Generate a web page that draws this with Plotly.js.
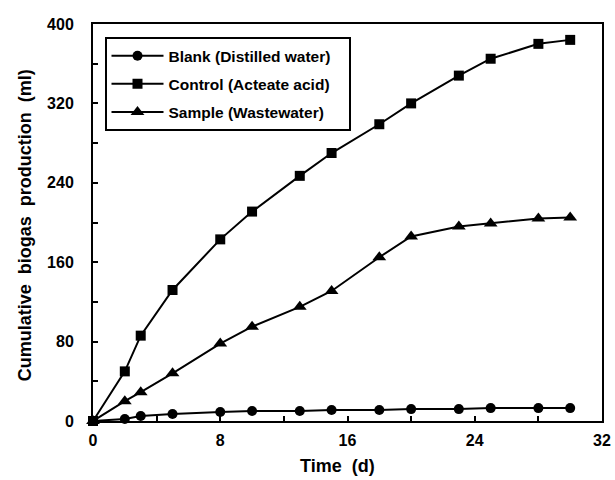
<!DOCTYPE html>
<html>
<head>
<meta charset="utf-8">
<script src="https://cdn.plot.ly/plotly-3.0.1.min.js"></script>
<style>html,body{margin:0;padding:0;background:#fff;}#chart{width:615px;height:480px;}</style>
</head>
<body>
<div id="chart"></div>
<script>
const days = [0, 2, 3, 5, 8, 10, 13, 15, 18, 20, 23, 25, 28, 30];
const blank = [0, 2, 5, 7, 9, 10, 10, 11, 11, 12, 12, 13, 13, 13];
const control = [0, 50, 86, 132, 183, 211, 247, 270, 299, 320, 348, 365, 380, 384];
const sample = [0, 20, 29, 48, 78, 95, 115, 131, 165, 186, 196, 199, 204, 205];
const seriesNames = ['Blank (Distilled water)', 'Control (Acteate acid)', 'Sample (Wastewater)'];
const xTicks = [0, 8, 16, 24, 32];
const yTicks = [0, 80, 160, 240, 320, 400];
const xTitle = 'Time&nbsp; (d)';
const yTitle = 'Cumulative&nbsp; biogas&nbsp; production&nbsp; (ml)';
const legendPad = '&nbsp;&nbsp;&nbsp;';

const FONT = 'Liberation Sans, Arial, sans-serif';
function tr(y, name, sym, size, grp) {
  return {
    x: days, y: y, name: name + legendPad, type: 'scatter', mode: 'lines+markers',
    legendgroup: grp, cliponaxis: false,
    line: {color: '#000', width: 2},
    marker: {symbol: sym, size: size, color: '#000'}
  };
}
const data = [
  tr(blank, seriesNames[0], 'circle', 10, 'a'),
  tr(control, seriesNames[1], 'square', 10, 'b'),
  tr(sample, seriesNames[2], 'triangle-up', 12, 'c')
];
const titleFont = {family: FONT, size: 18, weight: 'bold', color: '#000'};
const layout = {
  width: 615, height: 480,
  margin: {l: 92.5, r: 13, t: 24, b: 58.5},
  paper_bgcolor: '#fff', plot_bgcolor: '#fff',
  font: {family: FONT, color: '#000'},
  showlegend: true,
  legend: {
    x: 0.0226, y: 0.967, xanchor: 'left', yanchor: 'top',
    bordercolor: '#000', borderwidth: 2, bgcolor: '#fff',
    font: {family: FONT, size: 15.5, weight: 'bold', color: '#000'},
    tracegroupgap: 5, traceorder: 'grouped', itemwidth: 52
  },
  xaxis: {
    range: [0, 32], tickvals: xTicks, ticktext: xTicks.map(String),
    showgrid: false, zeroline: false,
    showline: true, linecolor: '#000', linewidth: 2, mirror: true,
    ticks: 'inside', ticklen: 5, tickwidth: 2, tickcolor: '#000',
    minor: {dtick: 4, tick0: 0, ticks: 'inside', ticklen: 5, tickwidth: 2, tickcolor: '#000', showgrid: false},
    tickfont: {family: FONT, size: 16, weight: 'bold', color: '#000'},
    ticklabelstandoff: 4
  },
  yaxis: {
    range: [0, 400], tickvals: yTicks, ticktext: yTicks.map(String),
    showgrid: false, zeroline: false,
    showline: true, linecolor: '#000', linewidth: 2, mirror: true,
    ticks: 'inside', ticklen: 5, tickwidth: 2, tickcolor: '#000',
    minor: {dtick: 40, tick0: 0, ticks: 'inside', ticklen: 5, tickwidth: 2, tickcolor: '#000', showgrid: false},
    tickfont: {family: FONT, size: 16, weight: 'bold', color: '#000'},
    ticklabelstandoff: 14
  },
  annotations: [
    {text: xTitle, xref: 'paper', yref: 'paper', x: (337 - 92.5) / 509.5, y: -(466.5 - 421.5) / 397.5,
     xanchor: 'center', yanchor: 'middle', showarrow: false, font: titleFont},
    {text: yTitle, xref: 'paper', yref: 'paper', x: (24 - 92.5) / 509.5, y: (421.5 - 226) / 397.5,
     xanchor: 'center', yanchor: 'middle', textangle: -90, showarrow: false, font: titleFont}
  ]
};
Plotly.newPlot('chart', data, layout, {displayModeBar: false, staticPlot: true});
</script>
</body>
</html>
